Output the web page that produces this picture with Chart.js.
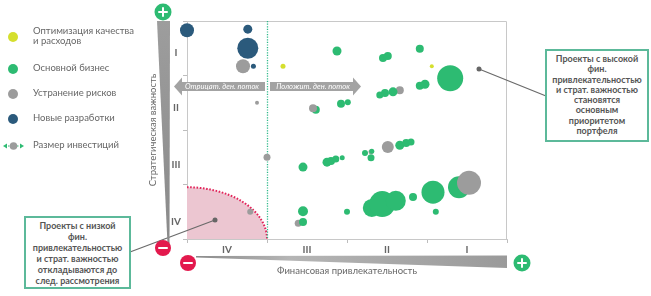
<!DOCTYPE html>
<html>
<head>
<meta charset="utf-8">
<script src="https://cdn.jsdelivr.net/npm/chart.js@4.4.0/dist/chart.umd.min.js"></script>
<style>
  body { margin: 0; background: #fff; font-family: Lato, "Open Sans", sans-serif; }
  #wrap { position: relative; width: 651px; height: 296px; overflow: hidden; }
  canvas { position: absolute; left: 0; top: 0; }
  .lg { position: absolute; left: 33px; font-size: 9.5px; line-height: 10.5px; color: #666; white-space: nowrap; }
  .dot { position: absolute; left: 8px; width: 10px; height: 10px; border-radius: 50%; }
  .note { position: absolute; box-sizing: border-box; border: 2px solid #5cb99a; background: #fff;
          color: #555; font-weight: bold; font-size: 9px; text-align: center; }
</style>
</head>
<body>
<div id="wrap">
  <canvas id="c" width="651" height="296"></canvas>
  <div id="legend"></div>
  <div class="note" style="left:545px;top:49px;width:104px;height:93px;line-height:10.3px;padding-top:3px">
    Проекты с высокой<br>фин.<br>привлекательностью<br>и страт. важностью<br>становятся<br>основным<br>приоритетом<br>портфеля</div>
  <div class="note" style="left:24px;top:216px;width:107px;height:73px;line-height:11px;padding-top:2px">
    Проекты с низкой<br>фин.<br>привлекательностью<br>и страт. важностью<br>откладываются до<br>след. рассмотрения</div>
</div>
<script>
// categories and tick labels
const groups = ["Оптимизация качества\nи расходов", "Основной бизнес", "Устранение рисков", "Новые разработки"];
const colors = ["#d5df2e", "#2dbb72", "#9c9c9c", "#2b5a7c"];
const xTickLabels = ["IV", "III", "II", "I"];
const yTickLabels = ["IV", "III", "II", "I"];
const yLabelAt = [0.31, 1.36, 2.40, 3.41];

// bubbles (x: fin. attractiveness 0-4, y: strategic importance 0-4, r: investment)
const quality = [{x:1.20,y:3.17,r:2.5}, {x:3.06,y:3.17,r:2}];
const core = [
  {x:1.875,y:3.45,r:4.5}, {x:1.61,y:2.37,r:4}, {x:1.925,y:2.48,r:4}, {x:2.01,y:2.51,r:3},
  {x:2.45,y:3.32,r:4}, {x:2.51,y:3.36,r:4}, {x:2.91,y:3.49,r:4}, {x:3.29,y:2.95,r:13},
  {x:2.41,y:2.64,r:3.5}, {x:2.475,y:2.68,r:4}, {x:2.575,y:2.70,r:4.5}, {x:2.91,y:2.81,r:4},
  {x:2.975,y:2.84,r:4.5}, {x:1.45,y:1.32,r:4.5}, {x:1.75,y:1.41,r:4.5}, {x:1.80,y:1.43,r:4},
  {x:1.86,y:1.47,r:3.5}, {x:1.94,y:1.49,r:2.5}, {x:2.225,y:1.58,r:3}, {x:2.30,y:1.49,r:3.5},
  {x:2.31,y:1.61,r:2.5}, {x:2.66,y:1.72,r:4.5}, {x:2.74,y:1.76,r:4}, {x:2.80,y:1.78,r:3.5},
  {x:1.45,y:0.51,r:5}, {x:1.45,y:0.31,r:4}, {x:2.00,y:0.50,r:3}, {x:2.31,y:0.57,r:9},
  {x:2.44,y:0.64,r:13}, {x:2.61,y:0.70,r:10}, {x:2.825,y:0.77,r:4}, {x:3.075,y:0.86,r:11.5},
  {x:3.11,y:0.50,r:3}, {x:3.40,y:0.95,r:11}
];
const riskBack = [
  {x:0.70,y:3.17,r:7}, {x:0.875,y:2.50,r:2}, {x:1.575,y:2.40,r:4}, {x:1.00,y:1.50,r:3.5},
  {x:2.51,y:1.69,r:6}, {x:3.525,y:1.03,r:12}, {x:0.79,y:0.50,r:3}
];
const riskFront = [{x:2.30,y:1.60,r:2.5}, {x:3.05,y:0.84,r:5}, {x:1.39,y:0.29,r:3.5}, {x:2.66,y:2.73,r:4}];
const newDev = [{x:0.0,y:3.83,r:7}, {x:0.76,y:3.85,r:4.5}, {x:0.76,y:3.50,r:10.5}, {x:0.83,y:3.17,r:2.5}];

// legend
const legend = document.getElementById("legend");
const legendY = [37, 69, 94, 119];
groups.forEach((g, i) => {
  const d = document.createElement("div");
  d.className = "dot";
  d.style.top = (legendY[i] - 5) + "px";
  d.style.background = colors[i];
  legend.appendChild(d);
  const t = document.createElement("div");
  t.className = "lg";
  const lines = g.split("\n");
  t.style.top = (legendY[i] - 5.25 - (lines.length - 1) * 5.25 - 1) + "px";
  t.innerHTML = lines.join("<br>");
  legend.appendChild(t);
});
const sz = document.createElement("div");
sz.className = "lg";
sz.style.top = "140px";
sz.textContent = "Размер инвестиций";
legend.appendChild(sz);

const FONT = 'Lato, "Open Sans", sans-serif';
Chart.defaults.font.family = FONT;

function roundBtn(ctx, x, y, r, color, plus) {
  ctx.beginPath();
  ctx.arc(x, y, r, 0, Math.PI * 2);
  ctx.fillStyle = color;
  ctx.fill();
  ctx.strokeStyle = "#fff";
  ctx.lineWidth = 2;
  ctx.lineCap = "round";
  ctx.beginPath();
  ctx.moveTo(x - 4, y); ctx.lineTo(x + 4, y);
  if (plus) { ctx.moveTo(x, y - 4); ctx.lineTo(x, y + 4); }
  ctx.stroke();
  ctx.lineCap = "butt";
}

function arrow(ctx, x1, x2, yc, dir, text) {
  // bar from x1 to x2, head beyond in direction dir
  ctx.fillStyle = "#a3a3a3";
  ctx.fillRect(x1, yc - 4.5, x2 - x1, 9);
  const base = dir < 0 ? x1 : x2;
  ctx.beginPath();
  ctx.moveTo(base, yc - 9);
  ctx.lineTo(base + dir * 8, yc);
  ctx.lineTo(base, yc + 9);
  ctx.closePath();
  ctx.fill();
  ctx.fillStyle = "#fff";
  ctx.font = "italic 7.6px " + FONT;
  ctx.textAlign = "center";
  ctx.textBaseline = "middle";
  ctx.fillText(text, (x1 + x2) / 2 + dir * 1.5, yc + 0.5);
}

const decor = {
  id: "decor",
  beforeDatasetsDraw(chart) {
    const {ctx, chartArea: a, scales: {x, y}} = chart;
    ctx.save();
    ctx.strokeStyle = "#c8c8c8";
    ctx.lineWidth = 1;
    ctx.beginPath();
    ctx.moveTo(a.left, a.top + 0.5);
    ctx.lineTo(a.right - 0.5, a.top + 0.5);
    ctx.lineTo(a.right - 0.5, a.bottom);
    ctx.stroke();

    // low-priority zone
    const x0 = x.getPixelForValue(0), y0 = y.getPixelForValue(0);
    const rx = x.getPixelForValue(1) - x0, ry = y0 - y.getPixelForValue(0.95);
    ctx.beginPath();
    ctx.moveTo(x0, y0);
    ctx.ellipse(x0, y0, rx, ry, 0, -Math.PI / 2, 0);
    ctx.closePath();
    ctx.fillStyle = "#ecc6d1";
    ctx.fill();
    ctx.beginPath();
    ctx.ellipse(x0, y0, rx, ry, 0, -Math.PI / 2, 0);
    ctx.setLineDash([1.6, 1.6]);
    ctx.lineWidth = 2;
    ctx.strokeStyle = "#e2245a";
    ctx.stroke();

    // cash flow divider
    const xd = Math.round(x.getPixelForValue(1)) + 0.5;
    ctx.setLineDash([1.2, 1.4]);
    ctx.lineWidth = 1.3;
    ctx.strokeStyle = "#2fb98a";
    ctx.beginPath();
    ctx.moveTo(xd, a.top);
    ctx.lineTo(xd, a.bottom);
    ctx.stroke();
    ctx.restore();
  },
  afterDatasetsDraw(chart) {
    const {ctx, chartArea: a} = chart;
    ctx.save();
    arrow(ctx, 182, 265, 86.5, -1, "Отрицат. ден. поток");
    arrow(ctx, 270, 353, 86.5, 1, "Положит. ден. поток");

    // callout lines
    ctx.strokeStyle = "#6a6a6a";
    ctx.lineWidth = 1.2;
    ctx.beginPath();
    ctx.moveTo(479, 69); ctx.lineTo(546, 96);
    ctx.moveTo(215, 220); ctx.lineTo(130, 252);
    ctx.stroke();
    ctx.fillStyle = "#666";
    ctx.beginPath(); ctx.arc(479, 69, 2.5, 0, Math.PI * 2); ctx.fill();
    ctx.beginPath(); ctx.arc(215, 220, 2.5, 0, Math.PI * 2); ctx.fill();

    // wedges
    let g = ctx.createLinearGradient(0, 21, 0, 245);
    g.addColorStop(0, "#9d9d9d"); g.addColorStop(1, "#8a8a8a");
    ctx.fillStyle = g;
    ctx.beginPath();
    ctx.moveTo(157, 21); ctx.lineTo(170, 21); ctx.lineTo(169.5, 244); ctx.lineTo(167.5, 244);
    ctx.closePath(); ctx.fill();
    g = ctx.createLinearGradient(196, 0, 507, 0);
    g.addColorStop(0, "#8c8c8c"); g.addColorStop(0.3, "#b5b5b5"); g.addColorStop(1, "#9a9a9a");
    ctx.fillStyle = g;
    ctx.beginPath();
    ctx.moveTo(196, 256); ctx.lineTo(507, 255.5); ctx.lineTo(507, 268); ctx.lineTo(196, 257.5);
    ctx.closePath(); ctx.fill();

    roundBtn(ctx, 163, 12, 8.5, "#2dbb72", true);
    roundBtn(ctx, 522, 263, 8.5, "#2dbb72", true);
    roundBtn(ctx, 163, 248, 8, "#e3194d", false);
    roundBtn(ctx, 188, 263, 8, "#e3194d", false);

    // axis titles
    ctx.fillStyle = "#666";
    ctx.font = "9.5px " + FONT;
    ctx.textAlign = "center";
    ctx.textBaseline = "middle";
    ctx.fillText("Финансовая привлекательность", (a.left + a.right) / 2, 271);
    ctx.translate(153, 130);
    ctx.rotate(-Math.PI / 2);
    ctx.fillText("Стратегическая важность", 0, 0);
    ctx.restore();

    // legend size icon
    ctx.save();
    ctx.strokeStyle = "#2dbb72";
    ctx.fillStyle = "#2dbb72";
    ctx.lineWidth = 1.2;
    ctx.setLineDash([1.5, 1.5]);
    ctx.beginPath(); ctx.moveTo(5, 146); ctx.lineTo(22, 146); ctx.stroke();
    ctx.setLineDash([]);
    ctx.beginPath(); ctx.moveTo(3, 146); ctx.lineTo(7, 143.5); ctx.lineTo(7, 148.5); ctx.closePath(); ctx.fill();
    ctx.beginPath(); ctx.moveTo(24, 146); ctx.lineTo(20, 143.5); ctx.lineTo(20, 148.5); ctx.closePath(); ctx.fill();
    ctx.fillStyle = "#9c9c9c";
    ctx.beginPath(); ctx.arc(13.5, 146, 3.8, 0, Math.PI * 2); ctx.fill();
    ctx.restore();
  }
};

const tickColor = c => Number.isInteger(c.tick.value) ? "#bdbdbd" : "rgba(0,0,0,0)";

new Chart(document.getElementById("c"), {
  type: "bubble",
  data: {
    datasets: [
      {label: groups[2], data: riskBack, backgroundColor: colors[2]},
      {label: groups[1], data: core, backgroundColor: colors[1]},
      {label: groups[2], data: riskFront, backgroundColor: colors[2]},
      {label: groups[0], data: quality, backgroundColor: colors[0]},
      {label: groups[3], data: newDev, backgroundColor: colors[3]}
    ]
  },
  options: {
    responsive: false,
    animation: false,
    clip: false,
    events: [],
    elements: {point: {borderWidth: 0, hoverBorderWidth: 0}},
    layout: {padding: {left: 167, top: 21, right: 144, bottom: 37}},
    plugins: {legend: {display: false}, tooltip: {enabled: false}},
    scales: {
      x: {
        type: "linear", min: 0, max: 4,
        afterFit: s => { s.height = 20; },
        afterBuildTicks: s => {
          s.ticks = [0, 0.5, 1, 1.5, 2, 2.5, 3, 3.5, 4].map(v => ({value: v}));
        },
        ticks: {
          autoSkip: false, maxRotation: 0, padding: 1,
          color: "#666", font: {size: 10, weight: "bold"},
          callback: v => Number.isInteger(v) ? "" : xTickLabels[Math.floor(v)]
        },
        grid: {drawOnChartArea: false, tickLength: 4, color: tickColor},
        border: {color: "#c8c8c8"}
      },
      y: {
        type: "linear", min: 0, max: 4,
        afterFit: s => { s.width = 20; },
        afterBuildTicks: s => {
          s.ticks = [0, 1, 2, 3, 4].concat(yLabelAt).sort((p, q) => p - q).map(v => ({value: v}));
        },
        ticks: {
          autoSkip: false, padding: 2, crossAlign: "center",
          color: "#666", font: {size: 10, weight: "bold"},
          callback: v => { const i = yLabelAt.indexOf(v); return i < 0 ? "" : yTickLabels[i]; }
        },
        grid: {drawOnChartArea: false, tickLength: 4, color: tickColor},
        border: {color: "#c8c8c8"}
      }
    }
  },
  plugins: [decor]
});
</script>
</body>
</html>
